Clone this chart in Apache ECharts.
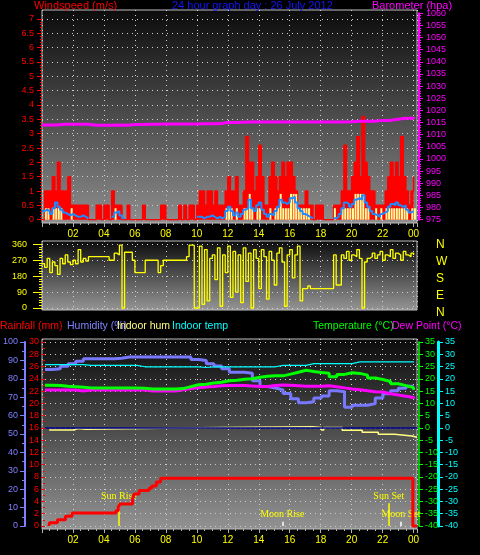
<!DOCTYPE html>
<html>
<head>
<meta charset="utf-8">
<script src="https://cdn.jsdelivr.net/npm/echarts@6/dist/echarts.min.js"></script>
<style>
html, body { margin: 0; padding: 0; background: #000; }
#chart { width: 480px; height: 555px; }
</style>
</head>
<body>
<div id="chart"></div>
<script>
// wind: one value every 10 minutes (slot i = i/6 hours)
const gust = [
  0, 1.0, 1.0, 1.0, 1.5, 1.0, 2.0, 1.0, 1.0, 1.0,
  1.5, 0.5, 0.5, 0.5, 0.5, 0.5, 0.5, 0.5, 0, 0,
  0, 0.5, 0.5, 0, 0.5, 0.5, 0, 1.0, 0.5, 0.5,
  0.5, 0, 0, 0.5, 0, 0, 0, 0, 0, 0.5,
  0, 0, 0, 0, 0, 0, 0.5, 0.5, 0, 0,
  0, 0, 0, 0.5, 0, 0.5, 0, 0.5, 0.5, 0,
  0.5, 1.0, 1.0, 0.5, 1.0, 1.0, 0.5, 1.0, 0.5, 0.5,
  0.5, 1.0, 1.5, 1.0, 1.0, 1.5, 0.5, 0.5, 1.0, 2.9,
  2.0, 2.0, 1.0, 1.5, 2.6, 1.5, 0.5, 0.5, 1.5, 2.0,
  1.5, 1.0, 1.5, 2.0, 1.5, 2.0, 2.0, 1.5, 1.0, 0.5,
  0.5, 0.5, 1.0, 0.5, 0.5, 0, 0.5, 0.5, 0.5, 0,
  0, 0, 0, 0.5, 0.5, 0.5, 1.0, 2.6, 1.0, 1.0,
  1.5, 2.0, 2.9, 1.5, 3.6, 2.0, 1.5, 1.0, 1.0, 0.5,
  0.5, 0.5, 0.5, 1.0, 1.5, 2.0, 1.5, 2.0, 1.5, 2.9,
  1.5, 1.0, 0.5, 1.0, 1.5
];
const speed = [
  0, 0.4, 0.4, 0, 0.4, 0.4, 0.4, 0.4, 0, 0,
  0, 0.4, 0, 0, 0, 0, 0, 0, 0, 0,
  0, 0, 0, 0, 0, 0, 0, 0, 0.4, 0,
  0, 0, 0, 0, 0, 0, 0, 0, 0, 0,
  0, 0, 0, 0, 0, 0, 0, 0, 0, 0,
  0, 0, 0, 0, 0, 0, 0, 0, 0, 0,
  0, 0, 0, 0, 0, 0, 0, 0, 0, 0,
  0, 0.4, 0.4, 0.4, 0, 0.4, 0, 0, 0.4, 0.4,
  0.9, 0.4, 0, 0.4, 0.4, 0, 0, 0, 0.4, 0,
  0.4, 0.4, 0.9, 0.4, 0.4, 0.4, 0.9, 0.9, 0.9, 0.4,
  0.4, 0.4, 0.4, 0.4, 0, 0, 0, 0, 0, 0,
  0, 0, 0, 0.4, 0, 0, 0.4, 0.4, 0.4, 0.4,
  0.4, 0.9, 0.9, 0.9, 0.9, 0.4, 0.4, 0, 0, 0.4,
  0, 0.4, 0, 0.4, 0.4, 0.4, 0.4, 0.4, 0.4, 0.4,
  0.4, 0.4, 0, 0.4, 0.4
];
const average = [
  0.3, 0.35, 0.3, 0.2, 0.4, 0.6, 0.45, 0.35, 0.25, 0.2,
  0.15, 0.2, 0.15, 0.1, 0.1, 0.15, 0.1, 0.05, null, null,
  null, null, null, null, null, null, null, 0.1, 0.25, 0.3,
  0.15, 0.05, null, null, null, null, null, null, null, null,
  null, null, null, null, null, null, null, null, null, null,
  null, null, null, null, null, null, null, null, null, null,
  0.1, 0.1, 0.05, 0.1, 0.1, 0.15, 0.1, 0.05, 0.1, 0.05,
  0.1, 0.3, 0.45, 0.3, 0.15, 0.25, 0.1, 0.2, 0.35, 0.4,
  0.7, 0.4, 0.3, 0.5, 0.6, 0.35, 0.2, 0.1, 0.2, 0.15,
  0.3, 0.45, 0.7, 0.6, 0.55, 0.6, 0.75, 0.8, 0.6, 0.4,
  0.3, 0.2, 0.15, 0.1, 0.05, null, null, null, null, null,
  null, null, null, 0.05, 0.1, 0.2, 0.4, 0.6, 0.55, 0.45,
  0.55, 0.7, 0.75, 0.7, 0.85, 0.6, 0.45, 0.3, 0.2, 0.15,
  0.1, 0.2, 0.25, 0.3, 0.45, 0.55, 0.5, 0.6, 0.5, 0.45,
  0.5, 0.35, 0.25, 0.3, 0.3
];
const direction = [
  250, 230, 280, 200, 260, 240, 190, 280, 250, 300,
  260, 245, 270, 250, 330, 260, 280, 265, 290, 290,
  290, 290, 290, 290, 290, 290, 270, 270, 310, 300,
  355, 0, 315, 315, 315, 270, 200, 200, 200, 200,
  270, 270, 270, 270, 270, 200, 240, 270, 270, 270,
  270, 270, 270, 270, 270, 270, 290, 355, 355, 0,
  0, 350, 20, 330, 40, 280, 300, 160, 340, 10,
  300, 200, 350, 60, 320, 90, 300, 30, 340, 150,
  310, 0, 330, 280, 110, 330, 290, 50, 320, 270,
  130, 310, 340, 260, 10, 300, 330, 170, 300, 350,
  40, 110, 110, 125, 110, 110, 110, 110, 110, 110,
  110, 110, 110, 300, 130, 130, 300, 280, 320, 270,
  300, 290, 330, 280, 0, 260, 280, 290, 310, 280,
  300, 320, 270, 300, 290, 330, 280, 310, 300, 270,
  320, 300, 290, 310, 300
];

// half-hourly readings (slot i = i/2 hours)
const barometer = [
  1014.0, 1014.0, 1014.3, 1014.3, 1014.3, 1014.3, 1013.9, 1013.9, 1013.9, 1014.0,
  1013.9, 1014.2, 1014.2, 1014.3, 1014.3, 1014.4, 1014.4, 1014.4, 1014.4, 1014.4,
  1014.5, 1014.5, 1014.5, 1015.0, 1015.0, 1015.1, 1015.2, 1015.2, 1015.2, 1015.2,
  1015.2, 1015.2, 1015.2, 1015.2, 1015.2, 1015.2, 1015.2, 1015.2, 1015.2, 1015.3,
  1015.5, 1015.5, 1015.5, 1015.9, 1015.9, 1016.4, 1016.8, 1016.8, 1017.2
];
const temperature = [
  17.4, 17.3, 17.0, 16.8, 16.6, 16.3, 16.3, 16.3, 16.3, 16.3,
  16.3, 16.2, 16.1, 15.8, 15.8, 15.8, 15.8, 16.0, 16.8, 17.6,
  17.8, 18.3, 18.6, 19.2, 19.4, 19.8, 20.0, 20.6, 21.0, 21.2,
  21.2, 21.9, 22.7, 23.5, 23.0, 22.6, 22.3, 20.8, 21.8, 22.5,
  22.2, 21.5, 20.3, 19.7, 18.9, 18.0, 17.2, 16.4, 15.5
];
const dewPoint = [
  15.4, 15.4, 15.4, 15.4, 15.0, 15.4, 15.4, 15.4, 15.4, 15.4,
  15.4, 15.4, 15.4, 15.0, 15.0, 15.0, 15.0, 15.5, 16.0, 16.4,
  16.7, 16.9, 17.2, 17.3, 17.3, 17.3, 17.1, 16.9, 16.9, 17.3,
  17.5, 17.4, 17.2, 17.0, 17.0, 17.0, 17.2, 16.8, 16.3, 15.8,
  15.5, 15.1, 14.7, 14.6, 13.9, 13.4, 12.9, 12.4, 12.0
];
const humidity = [
  85.1, 85.5, 86.8, 88.2, 89.6, 90.9, 90.9, 90.9, 90.9, 91.2,
  91.8, 91.8, 91.8, 91.8, 91.8, 91.8, 91.8, 91.8, 91.8, 90.5,
  90.0, 88.2, 87.0, 85.5, 83.6, 83.5, 83.0, 79.0, 75.8, 75.0,
  74.0, 72.0, 69.2, 67.0, 67.5, 69.5, 70.6, 73.5, 73.0, 64.5,
  65.6, 65.6, 66.5, 69.5, 71.9, 73.5, 74.8, 76.0, 76.0
];
const indoorTemp = [
  25.8, 25.8, 25.8, 25.8, 25.8, 25.5, 25.5, 25.5, 25.5, 25.5,
  25.5, 25.5, 24.9, 24.9, 24.9, 24.9, 24.9, 24.9, 24.9, 24.9,
  24.6, 24.9, 24.9, 24.9, 24.9, 24.9, 24.9, 24.9, 24.9, 24.9,
  25.5, 25.5, 25.5, 25.5, 26.2, 26.2, 26.2, 26.2, 26.2, 26.2,
  26.9, 26.9, 26.9, 26.9, 26.9, 26.9, 26.9, 26.9, 26.6
];

// step readings at their own times
const rainHours = [0.25, 0.3, 0.81, 1.33, 1.76, 4.62, 4.77, 4.88, 5.7, 5.8, 6.13, 6.77, 6.95, 7.25, 7.53, 23.95, 24.22];
const rainMm = [0, 0.54, 1.03, 1.58, 2.12, 2.5, 3.05, 3.59, 4.46, 5.2, 5.77, 6.15, 6.53, 7.19, 7.79, 0, 0];
const inHumHours = [0.27, 1.5, 1.6, 1.9, 2.1, 2.65, 11.4, 17.4, 18.0, 18.15, 19.35, 20.65, 21.7, 22.75, 23.9, 24.22];
const inHum = [52.2, 53.0, 52.2, 53.0, 52.6, 53.5, 53.9, 53.5, 52.2, 53.5, 52.0, 50.9, 49.8, 48.9, 48.2, 48.2];

const eventNames = ['Sun Rise', 'Moon Rise', 'Sun Set', 'Moon Set'];
const eventHours = [4.81, 15.45, 22.38, 23.18];

const compass = { 0: 'N', 90: 'E', 180: 'S', 270: 'W', 360: 'N' };

const slotPairs = (arr, step, shift) => arr.map((v, i) => [(i + (shift || 0)) * step, v == null ? '-' : v]);
const zip = (xs, ys) => xs.map((x, i) => [x, ys[i]]);

const FONT = 'Liberation Sans';
const XMAX = 24.22;
const dotted = { color: '#d0d0d0', type: [1, 4], width: 1 };
const bg = (bottom) => ({
  type: 'linear', x: 0, y: 0, x2: 0, y2: 1,
  colorStops: [{ offset: 0, color: '#0b0b0b' }, { offset: 1, color: bottom }]
});

function hourAxis(grid, withLabels) {
  return {
    type: 'value', gridIndex: grid, min: 0, max: XMAX, interval: 2, z: 1,
    axisLine: { show: false, onZero: false },
    axisTick: { show: withLabels, length: 4, lineStyle: { color: '#b0b0b0' } },
    minorTick: { show: withLabels, splitNumber: 4, length: 2, lineStyle: { color: '#b0b0b0' } },
    axisLabel: {
      show: withLabels, color: '#ffff00', fontSize: 10, fontFamily: FONT, margin: 6,
      showMinLabel: false, showMaxLabel: false,
      formatter: v => String(v % 24).padStart(2, '0')
    },
    splitLine: { show: true, lineStyle: dotted }
  };
}
function hiddenX(grid) {
  return { type: 'value', gridIndex: grid, min: 0, max: XMAX, show: false };
}
function hiddenY(grid) {
  return { type: 'value', gridIndex: grid, min: 0, max: 1, show: false };
}
function valueAxis(grid, o) {
  const axis = Object.assign({
    type: 'value', gridIndex: grid, z: 1,
    axisLine: { show: false },
    axisTick: { show: true, length: 4, lineStyle: { color: o.color } },
    axisLabel: { color: o.color, fontSize: 9, fontFamily: FONT, margin: 6 },
    splitLine: { show: false }
  }, o.opts);
  axis.axisLine = Object.assign({}, axis.axisLine, { onZero: false });
  axis.axisLabel = Object.assign({ formatter: v => String(v) }, axis.axisLabel);
  return axis;
}

const chart = echarts.init(document.getElementById('chart'));

const eventLines = eventNames.map((name, i) => {
  const sun = name.indexOf('Sun') === 0;
  return [
    { coord: [eventHours[i], sun ? 3.7 : 0.7], name: name,
      lineStyle: { color: sun ? '#ffff00' : '#ffffff', width: 1.5, type: 'solid' } },
    { coord: [eventHours[i], 0] }
  ];
});

chart.setOption({
  backgroundColor: '#000000',
  animation: false,
  grid: [
    { left: 42, width: 375, top: 10, height: 213, show: true, backgroundColor: bg('#8e8e8e'), borderColor: '#c0c0c0', borderWidth: 1 },
    { left: 42, width: 375, top: 19, height: 200.7 },
    { left: 42, width: 375, top: 13.3, height: 206.4 },
    { left: 42, width: 375, top: 241, height: 69, show: true, backgroundColor: bg('#969696'), borderColor: '#c0c0c0', borderWidth: 1 },
    { left: 42, width: 375, top: 244.3, height: 63.7 },
    { left: 42, width: 375, top: 245, height: 68 },
    { left: 42, width: 375, top: 339, height: 190, show: true, backgroundColor: bg('#939393'), borderColor: '#c0c0c0', borderWidth: 1 },
    { left: 42, width: 375, top: 342, height: 184 }
  ],
  xAxis: [
    hourAxis(0, true), hiddenX(1), hiddenX(2),
    hourAxis(3, false), hiddenX(4), hiddenX(5),
    hourAxis(6, true), hiddenX(7)
  ],
  yAxis: [
    hiddenY(0),
    valueAxis(1, { color: '#ff0000', opts: {
      position: 'left', min: 0, max: 7, interval: 0.5,
      axisTick: { show: true, length: 5, lineStyle: { color: '#ff0000' } },
      minorTick: { show: true, splitNumber: 5, length: 2, lineStyle: { color: '#ff0000' } },
      axisLabel: { color: '#ff0000', fontSize: 9, fontFamily: FONT, margin: 8 },
      splitLine: { show: true, lineStyle: dotted }
    } }),
    valueAxis(2, { color: '#ff00ff', opts: {
      position: 'right', offset: 2, min: 975, max: 1060, interval: 5,
      axisLine: { show: true, lineStyle: { color: '#ff00ff', width: 2 } },
      axisTick: { show: true, length: 4, lineStyle: { color: '#ff00ff' } },
      minorTick: { show: true, splitNumber: 5, length: 2, lineStyle: { color: '#ff00ff' } },
      axisLabel: { color: '#ff00ff', fontSize: 9, fontFamily: FONT, margin: 7 }
    } }),
    hiddenY(3),
    valueAxis(4, { color: '#ffff00', opts: {
      position: 'left', min: 0, max: 360, interval: 90,
      axisTick: { show: true, length: 9, lineStyle: { color: '#ffff00' } },
      minorTick: { show: true, splitNumber: 6, length: 3, lineStyle: { color: '#ffff00' } },
      axisLabel: { color: '#ffff00', fontSize: 9, fontFamily: FONT, margin: 15 },
      splitLine: { show: true, lineStyle: dotted }
    } }),
    valueAxis(5, { color: '#ffff00', opts: {
      position: 'right', min: 0, max: 360, interval: 90,
      axisTick: { show: false },
      axisLabel: { color: '#ffff00', fontSize: 12, fontFamily: FONT, margin: 19,
        formatter: v => compass[v] }
    } }),
    hiddenY(6),
    valueAxis(7, { color: '#ff0000', opts: {
      position: 'left', min: 0, max: 30, interval: 2,
      minorTick: { show: true, splitNumber: 2, length: 2, lineStyle: { color: '#ff0000' } },
      splitLine: { show: true, lineStyle: dotted }
    } }),
    valueAxis(7, { color: '#8080ff', opts: {
      position: 'left', offset: 20, min: 0, max: 100, interval: 10,
      axisLine: { show: true, lineStyle: { color: '#8080ff', width: 2 } },
      axisTick: { show: true, length: 5, lineStyle: { color: '#8080ff' } },
      minorTick: { show: true, splitNumber: 2, length: 3, lineStyle: { color: '#8080ff' } },
      axisLabel: { color: '#8080ff', fontSize: 9, fontFamily: FONT, margin: 7 }
    } }),
    valueAxis(7, { color: '#00ff00', opts: {
      position: 'right', offset: 2, min: -40, max: 35, interval: 5,
      axisLine: { show: true, lineStyle: { color: '#00ff00', width: 1.5 } },
      axisLabel: { color: '#00ff00', fontSize: 9, fontFamily: FONT, margin: 6 }
    } }),
    valueAxis(7, { color: '#00ffff', opts: {
      position: 'right', offset: 21, min: -40, max: 35, interval: 5,
      axisLine: { show: true, lineStyle: { color: '#00ffff', width: 3 } },
      axisTick: { show: true, length: 5, lineStyle: { color: '#00ffff' } },
      axisLabel: { color: '#00ffff', fontSize: 9, fontFamily: FONT, margin: 7 }
    } })
  ],
  graphic: [
    { type: 'text', x: 34, y: 0, style: { text: 'Windspeed (m/s)', fill: '#ff0000', font: '11px "Liberation Sans"' } },
    { type: 'text', x: 172, y: 0, style: { text: '24 hour graph day : 26 July 2012', fill: '#1414ff', font: '11px "Liberation Sans"' } },
    { type: 'text', x: 372, y: 0, style: { text: 'Barometer (hpa)', fill: '#ff00ff', font: '11px "Liberation Sans"' } },
    { type: 'text', x: 0, y: 321, style: { text: 'Rainfall (mm)', fill: '#ff0000', font: '10.5px "Liberation Sans"' } },
    { type: 'text', x: 67, y: 321, style: { text: 'Humidity (%)', fill: '#8080ff', font: '10.5px "Liberation Sans"' } },
    { type: 'text', x: 117, y: 321, style: { text: 'Indoor hum', fill: '#ffff80', font: '10.5px "Liberation Sans"' } },
    { type: 'text', x: 172, y: 321, style: { text: 'Indoor temp', fill: '#00ffff', font: '10.5px "Liberation Sans"' } },
    { type: 'text', x: 313, y: 321, style: { text: 'Temperature (°C)', fill: '#00ff00', font: '10.5px "Liberation Sans"' } },
    { type: 'text', x: 392, y: 321, style: { text: 'Dew Point (°C)', fill: '#ff00ff', font: '10.5px "Liberation Sans"' } }
  ],
  series: [
    {
      name: 'Gust', type: 'line', xAxisIndex: 1, yAxisIndex: 1, step: 'end', symbol: 'none', z: 2,
      data: slotPairs(gust, 1 / 6),
      lineStyle: { color: '#ff0000', width: 1.5 },
      areaStyle: { color: '#ff0000', opacity: 1, origin: 0 }
    },
    {
      name: 'Speed', type: 'bar', xAxisIndex: 1, yAxisIndex: 1, barWidth: 2, z: 3,
      data: slotPairs(speed, 1 / 6, 0.5),
      itemStyle: { color: '#ffff99' }
    },
    {
      name: 'Average', type: 'line', xAxisIndex: 1, yAxisIndex: 1, step: 'end', symbol: 'none', z: 4,
      data: slotPairs(average, 1 / 6),
      lineStyle: { color: '#1e8cff', width: 2 }
    },
    {
      name: 'Barometer', type: 'line', xAxisIndex: 2, yAxisIndex: 2, step: 'end', symbol: 'none', z: 5,
      data: slotPairs(barometer, 0.5),
      lineStyle: { color: '#ff00ff', width: 3 }
    },
    {
      name: 'Direction', type: 'line', xAxisIndex: 4, yAxisIndex: 4, step: 'end', symbol: 'none', clip: false,
      data: slotPairs(direction, 1 / 6),
      lineStyle: { color: '#ffff00', width: 1.3 }
    },
    {
      name: 'Indoor hum', type: 'line', xAxisIndex: 7, yAxisIndex: 8, step: 'end', symbol: 'none', z: 2,
      data: zip(inHumHours, inHum),
      lineStyle: { color: '#ffff80', width: 1.5 }
    },
    {
      name: 'Humidity', type: 'line', xAxisIndex: 7, yAxisIndex: 8, step: 'end', symbol: 'none', z: 3,
      data: slotPairs(humidity, 0.5),
      lineStyle: { color: '#7878ff', width: 3 }
    },
    {
      name: 'Indoor temp', type: 'line', xAxisIndex: 7, yAxisIndex: 10, step: 'end', symbol: 'none', z: 3,
      data: slotPairs(indoorTemp, 0.5),
      lineStyle: { color: '#00ffff', width: 1.2 }
    },
    {
      name: 'Dew Point', type: 'line', xAxisIndex: 7, yAxisIndex: 9, step: 'end', symbol: 'none', z: 4,
      data: slotPairs(dewPoint, 0.5),
      lineStyle: { color: '#ff00ff', width: 3 }
    },
    {
      name: 'Temperature', type: 'line', xAxisIndex: 7, yAxisIndex: 9, step: 'end', symbol: 'none', z: 5,
      data: slotPairs(temperature, 0.5),
      lineStyle: { color: '#00ff00', width: 3 },
      markLine: {
        silent: true, symbol: 'none', label: { show: false },
        lineStyle: { color: '#00008c', width: 1.5, type: 'solid' },
        data: [{ yAxis: 0 }]
      }
    },
    {
      name: 'Rainfall', type: 'line', xAxisIndex: 7, yAxisIndex: 7, step: 'end', symbol: 'none', z: 6, clip: false,
      data: zip(rainHours, rainMm),
      lineStyle: { color: '#ff0000', width: 3 },
      markLine: {
        silent: true, symbol: 'none',
        label: { show: true, position: 'start', formatter: '{b}', color: '#ffff00',
          fontFamily: 'Liberation Serif', fontSize: 10, distance: 2 },
        data: eventLines
      }
    }
  ]
});
</script>
</body>
</html>
